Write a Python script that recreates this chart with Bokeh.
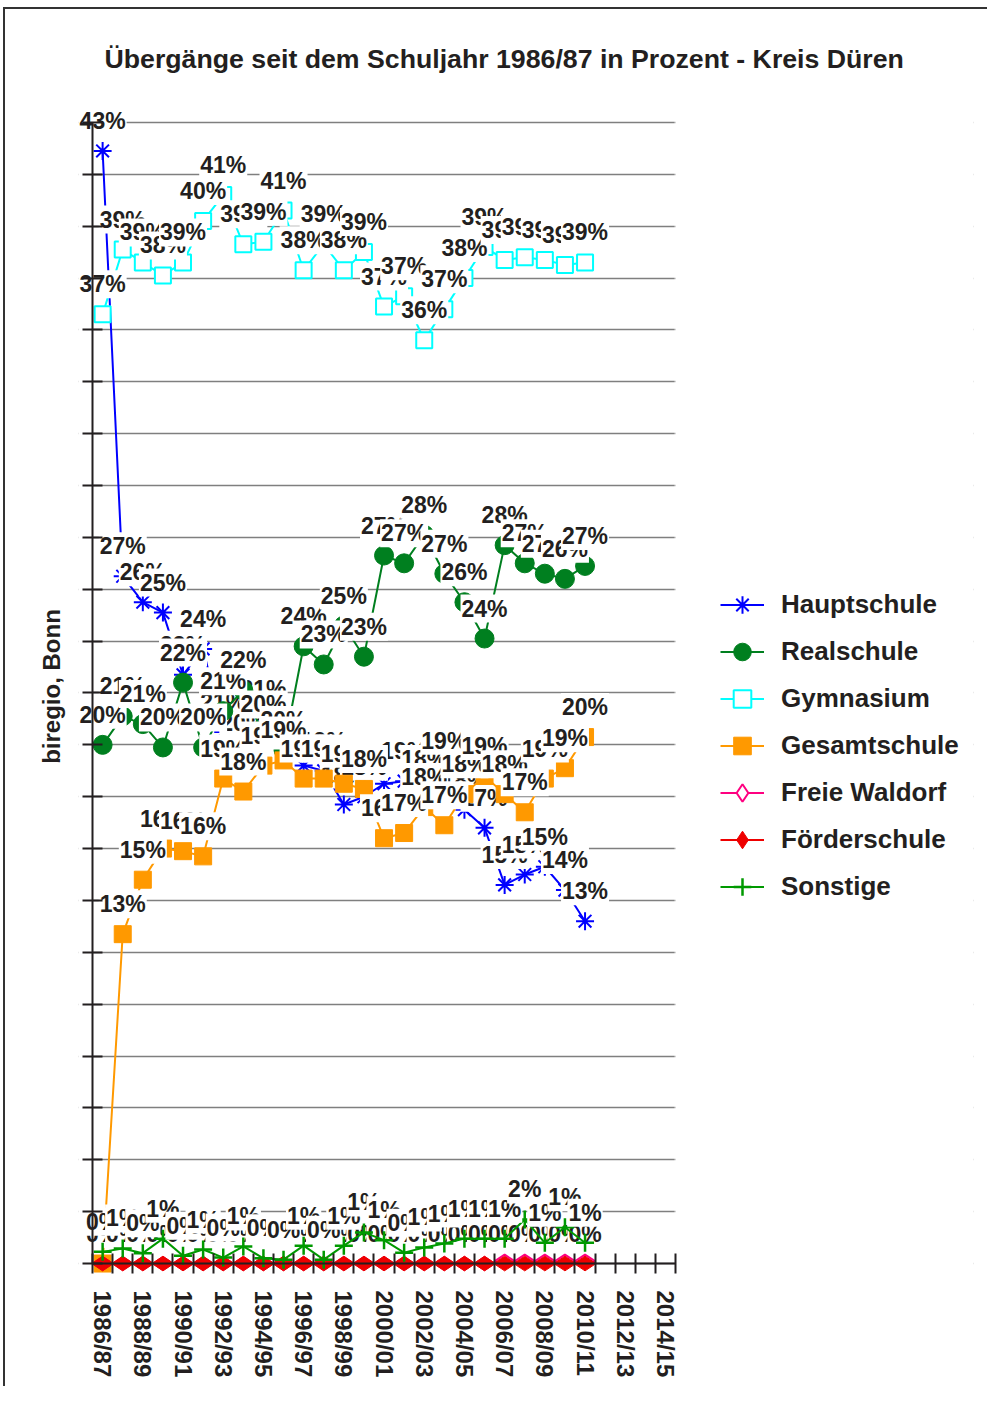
import numpy as np
from bokeh.plotting import figure
from bokeh.models import (Range1d, FixedTicker, Legend, LegendItem, ColumnDataSource,
                          LinearAxis, AllLabels, BoxAnnotation)
from bokeh.core.properties import value
from bokeh.embed import file_html
from bokeh.resources import INLINE

# ---------------- data ----------------
school_years = ["1986/87", "1987/88", "1988/89", "1989/90", "1990/91", "1991/92",
                "1992/93", "1993/94", "1994/95", "1995/96", "1996/97", "1997/98",
                "1998/99", "1999/00", "2000/01", "2001/02", "2002/03", "2003/04",
                "2004/05", "2005/06", "2006/07", "2007/08", "2008/09", "2009/10",
                "2010/11"]
axis_years = school_years + ["2011/12", "2012/13", "2013/14", "2014/15"]

hauptschule = [42.9, 26.5, 25.5, 25.1, 22.7, 23.7, 20.5, 19.7, 21.0, 19.9, 19.2, 19.0,
               17.7, 18.0, 18.5, 18.6, 18.3, 19.0, 17.5, 16.8, 14.6, 15.0, 15.3, 14.4, 13.2]
realschule = [20.0, 21.1, 20.8, 19.9, 22.4, 19.9, 21.3, 22.1, 20.4, 19.8, 23.8, 23.1,
              24.6, 23.4, 27.3, 27.0, 28.1, 26.6, 25.5, 24.1, 27.7, 27.0, 26.6, 26.4, 26.9]
gymnasium = [36.6, 39.1, 38.6, 38.1, 38.6, 40.2, 41.2, 39.3, 39.4, 40.6, 38.3, 39.3,
             38.3, 39.0, 36.9, 37.3, 35.6, 36.8, 38.0, 39.2, 38.7, 38.8, 38.7, 38.5, 38.6]
gesamtschule = [0.0, 12.7, 14.8, 16.0, 15.9, 15.7, 18.7, 18.2, 19.2, 19.4, 18.7, 18.7,
                18.5, 18.3, 16.4, 16.6, 17.6, 16.9, 18.1, 18.8, 18.1, 17.4, 18.7, 19.1, 20.3]
freie_waldorf = [0.0, 0.0, 0.0, 0.0, 0.0, 0.0, 0.0, 0.0, 0.0, 0.0, 0.0, 0.0,
                 0.0, 0.0, 0.0, 0.0, 0.0, 0.0, 0.0, 0.0, 0.1, 0.1, 0.1, 0.1, 0.1]
foerderschule = [0.0, 0.0, 0.0, 0.0, 0.0, 0.0, 0.0, 0.0, 0.0, 0.0, 0.0, 0.0,
                 0.0, 0.0, 0.0, 0.0, 0.0, 0.0, 0.0, 0.0, 0.0, 0.0, 0.0, 0.0, 0.0]
sonstige = [0.45, 0.58, 0.4, 0.96, 0.3, 0.54, 0.23, 0.66, 0.2, 0.15, 0.69, 0.15,
            0.69, 1.2, 0.9, 0.42, 0.62, 0.77, 0.96, 0.96, 0.96, 1.7, 0.8, 1.4, 0.8]

series_names = ["Hauptschule", "Realschule", "Gymnasium", "Gesamtschule",
                "Freie Waldorf", "Förderschule", "Sonstige"]
series_values = [hauptschule, realschule, gymnasium, gesamtschule,
                 freie_waldorf, foerderschule, sonstige]

TXT = "#231f20"
FONT = value("Liberation Sans")

# marker style per series: (color, marker, size, fill, line_width, angle)
styles = [
    ("#0000ff", "asterisk", 18, None, 2, 0.0),
    ("#007f1f", "circle", 19, "#007f1f", 1, 0.0),
    ("#00ffff", "square", 16, "white", 2, 0.0),
    ("#ff9900", "square", 17, "#ff9900", 1, 0.0),
    ("#ff0080", "diamond", 19, "white", 2, np.pi / 2),
    ("#ee0000", "diamond", 22, "#ee0000", 1, np.pi / 2),
    ("#009900", "cross", 18, None, 2.5, 0.0),
]

# geometry of the plotting frame
X_START, X_AXIS_END = -1.2, 28.5
PX_PER_CAT = 597 / (X_AXIS_END - X_START)
FRAME_W = 895
X_END = X_START + FRAME_W / PX_PER_CAT

p = figure(frame_width=FRAME_W, frame_height=1180, output_backend="svg",
           toolbar_location=None,
           x_range=Range1d(X_START, X_END), y_range=Range1d(-0.5, 45),
           min_border_left=73, min_border_right=14, min_border_top=87,
           min_border_bottom=110)
p.styles = {"margin-left": "3px", "margin-top": "7px",
            "border-left": "2px solid #333333", "border-top": "2px solid #333333"}
p.outline_line_color = None
p.background_fill_color = "white"

items = []
for name, vals, (col, mk, sz, fill, lw, ang) in zip(series_names, series_values, styles):
    src = ColumnDataSource(dict(
        x=list(range(len(vals))), y=vals,
        lab=[f"{int(v + 0.5)}%" for v in vals]))
    rl = p.line("x", "y", source=src, line_color=col, line_width=2)
    rm = p.scatter("x", "y", source=src, marker=mk, size=sz, line_color=col,
                   fill_color=fill, line_width=lw, angle=ang)
    p.text("x", "y", text="lab", source=src, text_font=FONT, text_font_style="bold",
           text_font_size="23px", text_color=TXT, text_align="center",
           text_baseline="middle", y_offset=-30, background_fill_color="white",
           padding=1)
    items.append(LegendItem(label=name, renderers=[rl, rm]))

# ---- x axis: labels (at frame bottom) ----
xa = p.xaxis[0]
xa.ticker = FixedTicker(ticks=list(range(0, 29, 2)))
xa.major_label_overrides = {i: axis_years[i] for i in range(0, 29, 2)}
xa.major_label_policy = AllLabels()
xa.major_label_orientation = "vertical"
xa.major_tick_in = 0
xa.major_tick_out = 0
xa.minor_tick_line_color = None
xa.axis_line_color = None
xa.major_tick_line_color = None
xa.major_label_standoff = 14
xa.major_label_text_font = "Liberation Sans"
xa.major_label_text_font_style = "bold"
xa.major_label_text_font_size = "24px"
xa.major_label_text_color = TXT

# ---- x axis line with boundary ticks at y = 0 ----
xline = LinearAxis(ticker=FixedTicker(ticks=[], minor_ticks=[i - 0.5 for i in range(30)]),
                   fixed_location=0, bounds=(-0.5, 28.5),
                   axis_line_width=2, axis_line_color=TXT,
                   minor_tick_in=10, minor_tick_out=10, minor_tick_line_width=2,
                   minor_tick_line_color=TXT, major_tick_line_color=None)
p.add_layout(xline, "below")

# ---- y axis: title only ----
ya = p.yaxis[0]
ya.ticker = FixedTicker(ticks=[])
ya.axis_line_color = None
ya.major_tick_line_color = None
ya.minor_tick_line_color = None
ya.major_tick_out = 0
ya.major_label_standoff = 0
ya.axis_label = "biregio, Bonn"
ya.axis_label_standoff = 14
ya.axis_label_text_font = "Liberation Sans"
ya.axis_label_text_font_style = "bold"
ya.axis_label_text_font_size = "24px"
ya.axis_label_text_color = TXT

# ---- y axis line with ticks at x = -0.5 ----
yline = LinearAxis(ticker=FixedTicker(ticks=[], minor_ticks=list(range(0, 45, 2))),
                   fixed_location=-0.5, bounds=(0, 44),
                   axis_line_width=2, axis_line_color=TXT,
                   minor_tick_in=10, minor_tick_out=10, minor_tick_line_width=2,
                   minor_tick_line_color=TXT, major_tick_line_color=None)
p.add_layout(yline, "left")

p.xgrid.visible = False
p.ygrid[0].ticker = FixedTicker(ticks=list(range(0, 45, 2)))
p.ygrid.grid_line_color = "#7f7f7f"
p.ygrid.grid_line_width = 1.5

# keep the grid lines between the axis and the last category boundary
p.add_layout(BoxAnnotation(left=X_AXIS_END, fill_color="white", fill_alpha=1,
                           line_color="white", line_width=3, level="underlay"))
p.add_layout(BoxAnnotation(right=-0.5, fill_color="white", fill_alpha=1,
                           line_color="white", line_width=3, level="underlay"))

# title
p.title.text = "Übergänge seit dem Schuljahr 1986/87 in Prozent - Kreis Düren"
p.title.text_font = "Liberation Sans"
p.title.text_font_style = "bold"
p.title.text_font_size = "26.7px"
p.title.text_color = TXT
p.title.align = "left"
p.title.offset = 26
p.title.standoff = 45

legend = Legend(items=items, location=(642, 367), glyph_width=44, glyph_height=45,
                label_height=45, spacing=2, label_standoff=17, padding=0, margin=0,
                border_line_color=None, background_fill_alpha=0,
                label_text_font="Liberation Sans", label_text_font_style="bold",
                label_text_font_size="26px", label_text_color=TXT)
p.add_layout(legend, "center")

open("out.html", "w").write(file_html(p, INLINE))
